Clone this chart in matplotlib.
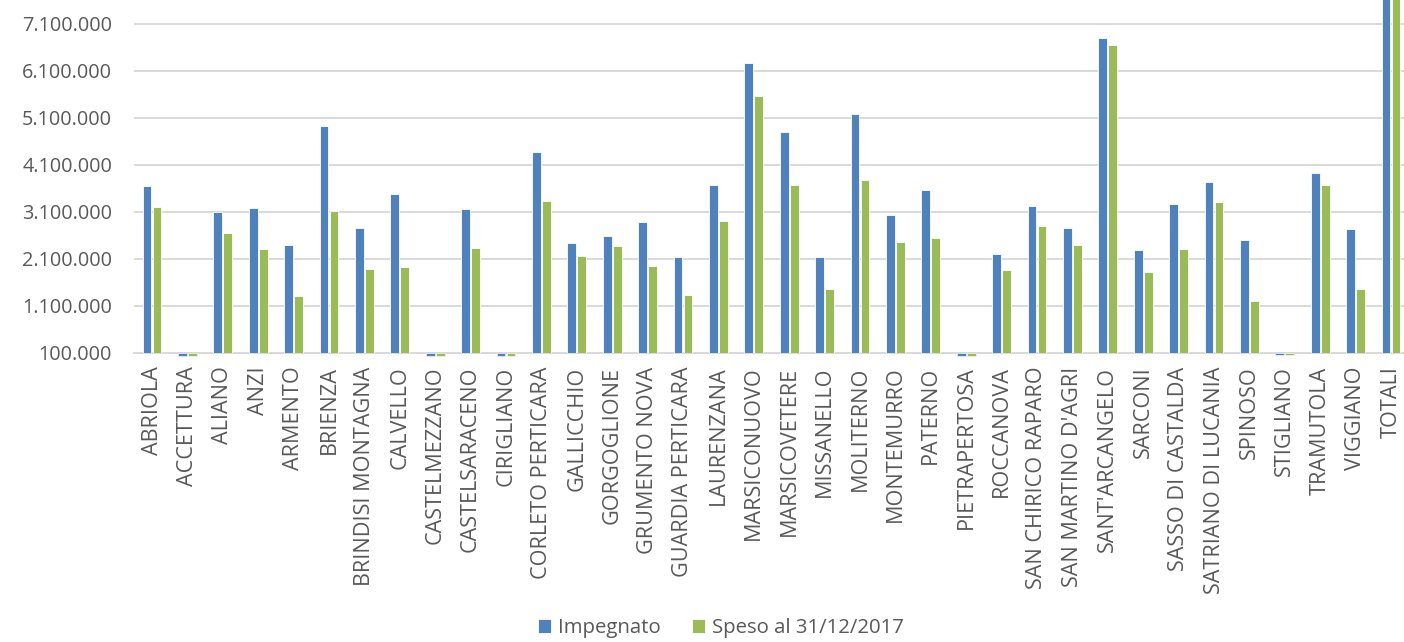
import matplotlib
matplotlib.use("Agg")
import matplotlib.pyplot as plt
from matplotlib.ticker import FuncFormatter
import numpy as np

comuni = ["ABRIOLA", "ACCETTURA", "ALIANO", "ANZI", "ARMENTO", "BRIENZA",
          "BRINDISI MONTAGNA", "CALVELLO", "CASTELMEZZANO", "CASTELSARACENO",
          "CIRIGLIANO", "CORLETO PERTICARA", "GALLICCHIO", "GORGOGLIONE",
          "GRUMENTO NOVA", "GUARDIA PERTICARA", "LAURENZANA", "MARSICONUOVO",
          "MARSICOVETERE", "MISSANELLO", "MOLITERNO", "MONTEMURRO", "PATERNO",
          "PIETRAPERTOSA", "ROCCANOVA", "SAN CHIRICO RAPARO", "SAN MARTINO D'AGRI",
          "SANT'ARCANGELO", "SARCONI", "SASSO DI CASTALDA", "SATRIANO DI LUCANIA",
          "SPINOSO", "STIGLIANO", "TRAMUTOLA", "VIGGIANO", "TOTALI"]

impegnato = [3653000, 30000, 3094000, 3172000, 2385000, 4917000,
             2753000, 3470000, 30000, 3157000,
             30000, 4364000, 2440000, 2577000,
             2887000, 2136000, 3668000, 6264000,
             4802000, 2130000, 5172000, 3023000, 3562000,
             30000, 2200000, 3215000, 2760000,
             6796000, 2279000, 3264000, 3726000,
             2498000, 50000, 3917000, 2726000, 103200000]

speso = [3200000, 30000, 2653000, 2306000, 1306000, 3115000,
         1874000, 1923000, 30000, 2328000,
         30000, 3321000, 2157000, 2370000,
         1945000, 1328000, 2902000, 5562000,
         3674000, 1449000, 3774000, 2462000, 2540000,
         30000, 1860000, 2796000, 2398000,
         6640000, 1823000, 2306000, 3300000,
         1206000, 50000, 3668000, 1462000, 82000000]

yticks = [100000, 1100000, 2100000, 3100000, 4100000, 5100000, 6100000, 7100000]

BLUE = "#4F81BD"
GREEN = "#9BBB59"
TXT = "#595959"
GRID = "#D9D9D9"

plt.rcParams['font.family'] = ['Open Sans', 'DejaVu Sans']

W, H = 1404, 642
fig = plt.figure(figsize=(W / 100, H / 100), dpi=100)
left_px, right_px = 134.3, 1404
top_px, bottom_px = 0, 352.7
ax = fig.add_axes([left_px / W, (H - bottom_px) / H,
                   (right_px - left_px) / W, (bottom_px - top_px) / H])

base = 100000
x = np.arange(len(comuni))
bw = 0.245
off = 0.141
imp = np.array(impegnato)
spe = np.array(speso)

for vals, o, c, lab in [(imp, -off, BLUE, "Impegnato"), (spe, off, GREEN, "Speso al 31/12/2017")]:
    above = vals >= base
    ax.bar(x[above] + o, vals[above] - base, bottom=base, width=bw, color=c,
           edgecolor="white", linewidth=0.6, label=lab, zorder=3)
    ax.bar(x[~above] + o, vals[~above] - base, bottom=base, width=bw, color=c,
           edgecolor="white", linewidth=0.4, clip_on=False, zorder=3)

top_val = base + (bottom_px - top_px) / 47.0 * 1e6
ax.set_ylim(base, top_val)
cat_px = 35.4
ax.set_xlim(-0.5, -0.5 + (right_px - left_px) / cat_px)

ax.set_yticks(yticks)
ax.yaxis.set_major_formatter(FuncFormatter(lambda v, p: f"{int(round(v)):,}".replace(",", ".")))
ax.set_xticks(x)
ax.set_xticklabels(comuni, rotation=90, fontsize=15.6, color=TXT)
ax.tick_params(axis='y', labelsize=14.3, colors=TXT, length=0, pad=16)
ax.tick_params(axis='x', length=0, pad=10)
ax.grid(axis='y', color=GRID, linewidth=1.4, zorder=0)
ax.set_axisbelow(True)
for s in ["top", "right", "left"]:
    ax.spines[s].set_visible(False)
ax.spines["bottom"].set_color(GRID)
ax.spines["bottom"].set_linewidth(1.4)
ax.spines["bottom"].set_zorder(2)

fig.legend(loc="center", bbox_to_anchor=(721 / W, (H - 628) / H), ncol=2,
           frameon=False, fontsize=14.7, labelcolor=TXT, handlelength=0.65,
           handleheight=0.65, columnspacing=1.5, handletextpad=0.35)

fig.savefig("out.png", dpi=100)
